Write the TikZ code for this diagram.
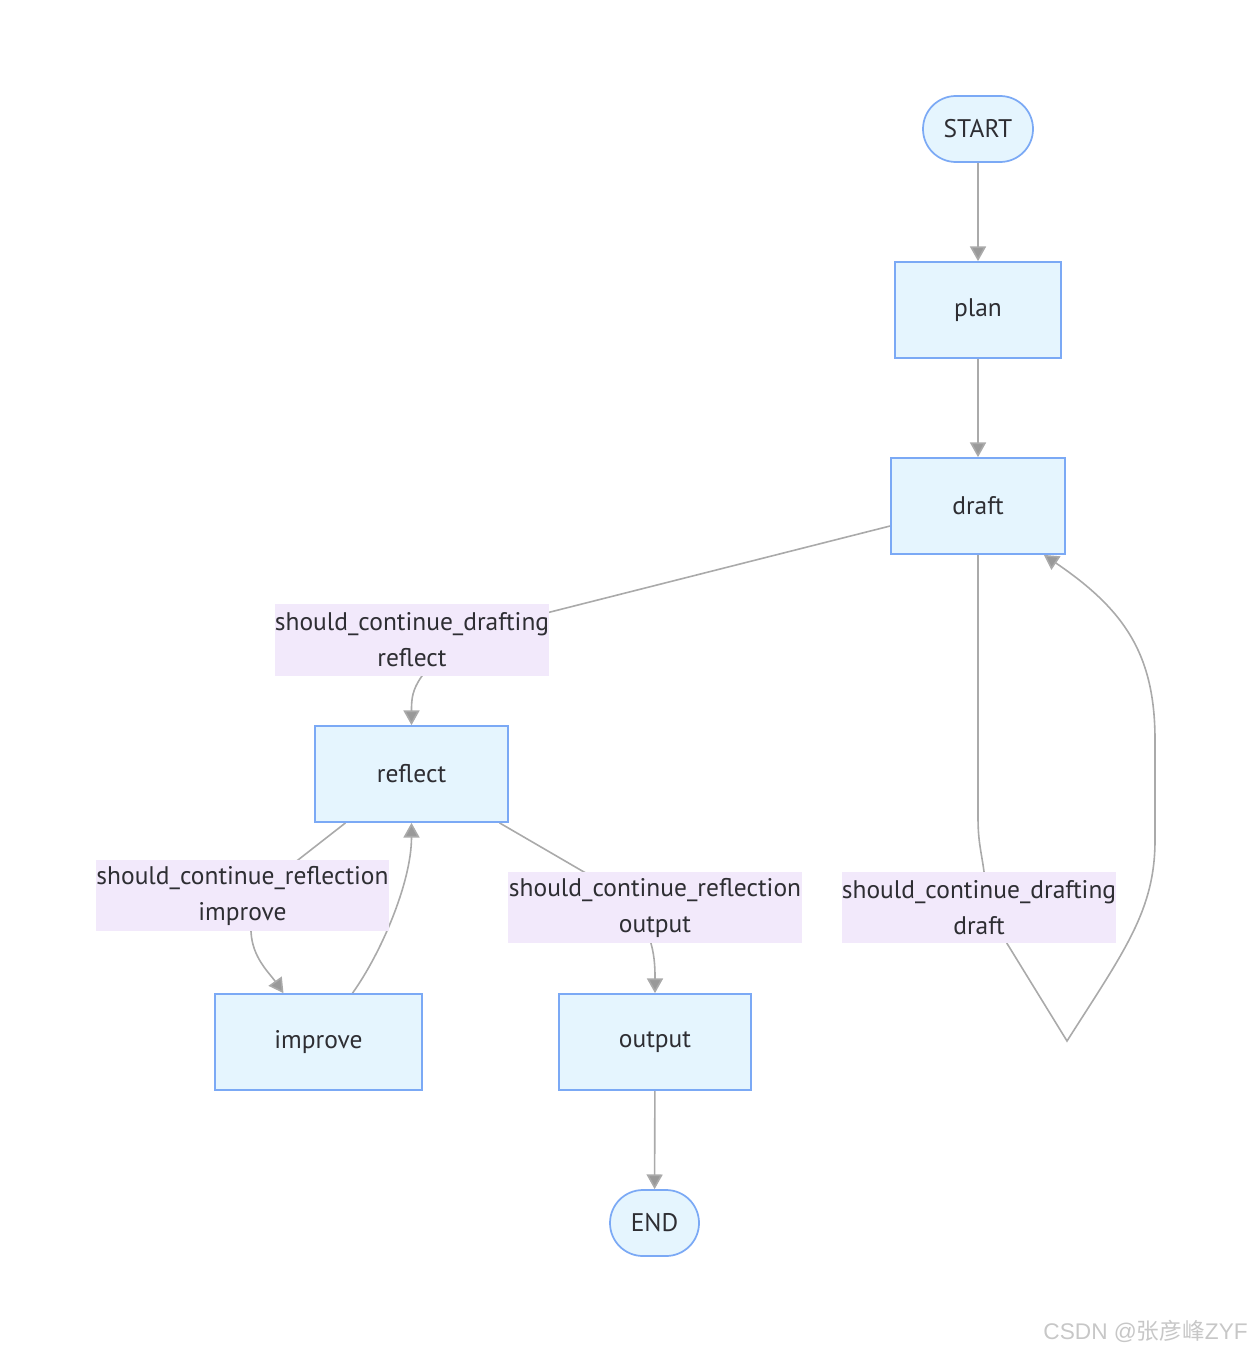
\documentclass[tikz,border=0pt]{standalone}
\usepackage{fontspec}
\setmainfont{PT Sans}
\newfontfamily\cjkwm{Noto Sans CJK SC}
\newfontfamily\latwm{Liberation Sans}
\usetikzlibrary{arrows.meta,calc}
\definecolor{nodefill}{HTML}{E5F5FE}
\definecolor{nodeline}{HTML}{7BA9F5}
\definecolor{labfill}{HTML}{F2E9FB}
\definecolor{edgecol}{HTML}{AAAAAA}
\definecolor{tipcol}{HTML}{999999}
\definecolor{txtcol}{HTML}{2E2E33}
\pgfdeclarelayer{bg}
\pgfsetlayers{bg,main}
\tikzset{
  basefont/.style={font=\fontsize{19.1pt}{27pt}\selectfont, text=txtcol},
  stepbox/.style={basefont, rectangle, draw=nodeline, fill=nodefill, line width=1.3pt, minimum height=72pt, inner sep=0pt},
  terminal/.style={basefont, rectangle, rounded corners=24.7pt, draw=nodeline, fill=nodefill, line width=1.3pt, minimum height=49.5pt, inner sep=0pt},
  edgelab/.style={basefont, rectangle, fill=labfill, draw=none, align=center, inner sep=0pt, minimum height=53.5pt},
  edge/.style={draw=edgecol, line width=1.2pt, -{Triangle[width=12pt,length=11pt,fill=tipcol]}},
}
\begin{document}
\begin{tikzpicture}[x=0.75pt,y=-0.75pt]
\useasboundingbox (0,0) rectangle (1251,1352);
% nodes
\node[terminal, minimum width=82.5pt] (start) at (978,129) {START};
\node[stepbox, minimum width=124.5pt] (plan) at (978,310) {plan};
\node[stepbox, minimum width=130.5pt] (draft) at (978,506) {draft};
\node[edgelab, minimum width=205.5pt] (lab1) at (412,640) {should\_continue\_drafting\\reflect};
\node[stepbox, minimum width=144.75pt] (reflect) at (411.5,774) {reflect};
\node[edgelab, minimum width=219.75pt] (lab2) at (242.5,895.5) {should\_continue\_reflection\\improve};
\node[edgelab, minimum width=220.5pt] (lab3) at (655,907.5) {should\_continue\_reflection\\output};
\node[edgelab, minimum width=205.5pt] (lab4) at (979,907.5) {should\_continue\_drafting\\draft};
\node[stepbox, minimum width=155.25pt] (improve) at (318.5,1042) {improve};
\node[stepbox, minimum width=144pt] (output) at (655,1042) {output};
\node[terminal, minimum width=66.75pt] (end) at (654.5,1223) {END};
\node[font=\fontsize{17pt}{20pt}\selectfont, text=black!22, anchor=east, inner sep=0pt] (wm) at (1248,1331) {\latwm CSDN @\cjkwm 张彦峰\latwm ZYF};
\coordinate (loopbot) at (1067,1041);
\coordinate (loopr1) at (1155,840);
\coordinate (loopr2) at (1155,740);
% edges
\begin{pgfonlayer}{bg}
\draw[edge] (start) -- (plan);
\draw[edge] (plan) -- (draft);
\draw[edge] ($(draft.west)+(0,20)$) -- ($(lab1.center)+(0,7)$) -- ($(lab1.south)+(10,0)$)
  .. controls +(-10,14) and +(0,-26) .. (reflect.north);
\draw[edge] ($(reflect.south)+(-66,0)$) -- ($(lab2.center)+(10,0)$) -- ($(lab2.south)+(8.5,0)$)
  .. controls +(1,26) and +(-14,-20) .. ($(improve.north)+(-35,0)$);
\draw[edge] ($(improve.north)+(34,0)$) .. controls +(28,-39) and +(0,60) .. (reflect.south);
\draw[edge] ($(reflect.south)+(88,0)$) -- ($(lab3.center)+(-10,0)$) -- ($(lab3.south)+(-4,0)$)
  .. controls +(4,14) and +(0,-22) .. (output.north);
\draw[edge] (output) -- (end);
\draw[edge] (draft.south) -- ($(draft.south)+(0,262)$)
  .. controls +(0,25) and +(-3,-22) .. ($(lab4.north)+(5,0)$)
  -- ($(lab4.south)+(28,0)$) -- (loopbot)
  .. controls (1125,950) and (1155,910) .. (loopr1) -- (loopr2)
  .. controls (1155,655) and (1125,610) .. ($(draft.south east)+(-22,0)$);
\end{pgfonlayer}
\end{tikzpicture}
\end{document}
